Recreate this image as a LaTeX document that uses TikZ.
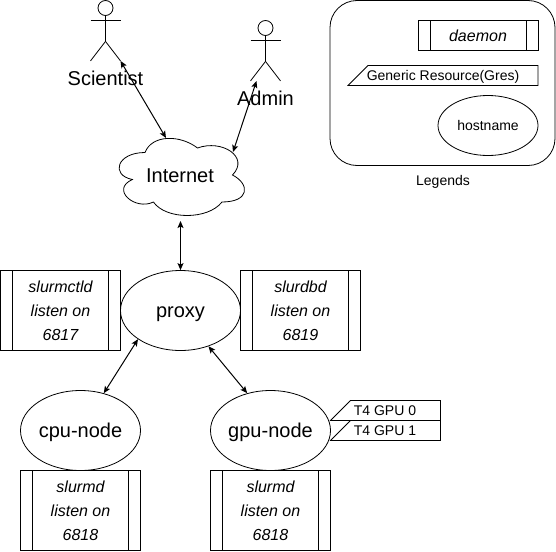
\documentclass[tikz,border=0pt]{standalone}
\usepackage{fontspec}
\setmainfont{Liberation Sans}
\usetikzlibrary{arrows.meta,calc,shapes.geometric}
\tikzset{
    biarrow/.style={
    {Stealth[length=7pt,width=6pt,inset=1.5pt]}-{Stealth[length=7pt,width=6pt,inset=1.5pt]},line width=1pt
    },
    head/.style={
    circle,draw=black,line width=0.8pt,minimum size=15pt,inner sep=0pt
    },
    bigtext/.style={
    font=\fontsize{20}{24}\selectfont,text height=16pt,text depth=2pt,inner sep=0pt
    },
    smalltext/.style={
    font=\fontsize{14}{17}\selectfont,text height=11pt,text depth=1pt,inner sep=0pt
    },
    host/.style={
    ellipse,draw=black,line width=0.8pt,minimum width=120pt,minimum height=80pt,inner sep=0pt,bigtext
    },
    daemon/.style={
    rectangle,draw=black,line width=0.8pt,minimum width=120pt,minimum height=80pt,inner sep=0pt,align=center,
    font=\itshape\fontsize{16}{24}\selectfont,
    path picture={
      \draw[line width=0.8pt] ($(path picture bounding box.north west)+(12pt,0)$) -- ($(path picture bounding box.south west)+(12pt,0)$);
      \draw[line width=0.8pt] ($(path picture bounding box.north east)+(-12pt,0)$) -- ($(path picture bounding box.south east)+(-12pt,0)$);
      }
    },
    gres/.style={
    draw=black,line width=0.8pt
    },
}
\begin{document}
\begin{tikzpicture}[x=1pt,y=-1pt]
  \useasboundingbox (0,0) rectangle (556,551);

  % actors
  \node[head] (scientist) at (105.5,8) {};
  \draw[line width=0.8pt] (scientist.south) -- ++(0,25.5) coordinate (scihip) -- ++(-15,19.5);
  \draw[line width=0.8pt] (scihip) -- ++(15,19.5) coordinate (scifoot);
  \draw[line width=0.8pt] (90.5,20.5) -- (120.5,20.5);
  \node[bigtext] (scilabel) at (105.5,78) {Scientist};

  \node[head] (admin) at (265.5,28) {};
  \draw[line width=0.8pt] (admin.south) -- ++(0,25.5) coordinate (admhip) -- ++(-15,19.5);
  \draw[line width=0.8pt] (admhip) -- ++(15,19.5);
  \draw[line width=0.8pt] (250.5,40.5) -- (280.5,40.5);
  \coordinate (admtip) at (256.5,81);
  \node[bigtext] (admlabel) at (265.5,98) {Admin};

  % cloud
  \draw[line width=0.8pt] (145,152.5) .. controls (117,152.5) and (110,175) .. (132.4,179.5)
    .. controls (110,189.4) and (135.2,211) .. (153.4,202)
    .. controls (166,220) and (208,220) .. (222,202)
    .. controls (250,202) and (250,184) .. (232.5,175)
    .. controls (250,157) and (222,139) .. (197.5,148)
    .. controls (180,134.5) and (152,134.5) .. (145,152.5) -- cycle;
  \node[bigtext] (internet) at (180,175) {Internet};
  \coordinate (cloudtop) at (166,138);
  \coordinate (cloudright) at (233,152);
  \coordinate (cloudbot) at (180.5,221);

  % hosts
  \node[host] (proxy) at (180.5,310.5) {proxy};
  \node[host] (cpu) at (80.5,430.5) {cpu-node};
  \node[host] (gpu) at (270.5,430.5) {gpu-node};

  % daemons
  \node[daemon] (slurmctld) at (60.5,310.5) {slurmctld\\listen on\\6817};
  \node[daemon] (slurdbd) at (300.5,310.5) {slurdbd\\listen on\\6819};
  \node[daemon] (cpud) at (80.5,510.5) {slurmd\\listen on\\6818};
  \node[daemon] (gpud) at (270.5,510.5) {slurmd\\listen on\\6818};

  % gpus
  \draw[gres] (330.5,420.5) -- (350.5,400.5) -- (440.5,400.5) -- (440.5,420.5) -- cycle;
  \draw[gres] (330.5,440.5) -- (350.5,420.5) -- (440.5,420.5) -- (440.5,440.5) -- cycle;
  \node[smalltext] (gpu0) at (385,410.5) {T4 GPU 0};
  \node[smalltext] (gpu1) at (385,430.5) {T4 GPU 1};

  % legend
  \draw[line width=0.8pt,rounded corners=27pt] (330,0.5) rectangle (555,165.5);
  \node[daemon,minimum width=120pt,minimum height=30pt,font=\itshape\fontsize{16}{19}\selectfont] (legdaemon) at (478,35.5) {daemon};
  \draw[gres] (348,85.5) -- (368,65.5) -- (538,65.5) -- (538,85.5) -- cycle;
  \node[smalltext] (leggres) at (443,75.5) {Generic Resource(Gres)};
  \node[ellipse,draw=black,line width=0.8pt,minimum width=100pt,minimum height=60pt,inner sep=0pt,smalltext] (leghost) at (488,125.5) {hostname};
  \node[smalltext] (legend) at (443,180) {Legends};

  % links
  \draw[biarrow] (scifoot) -- (cloudtop);
  \draw[biarrow] (admtip) -- (cloudright);
  \draw[biarrow] (cloudbot) -- (proxy.north);
  \draw[biarrow] (proxy.214) -- (cpu.58);
  \draw[biarrow] (proxy.308) -- (gpu.122);
\end{tikzpicture}
\end{document}
